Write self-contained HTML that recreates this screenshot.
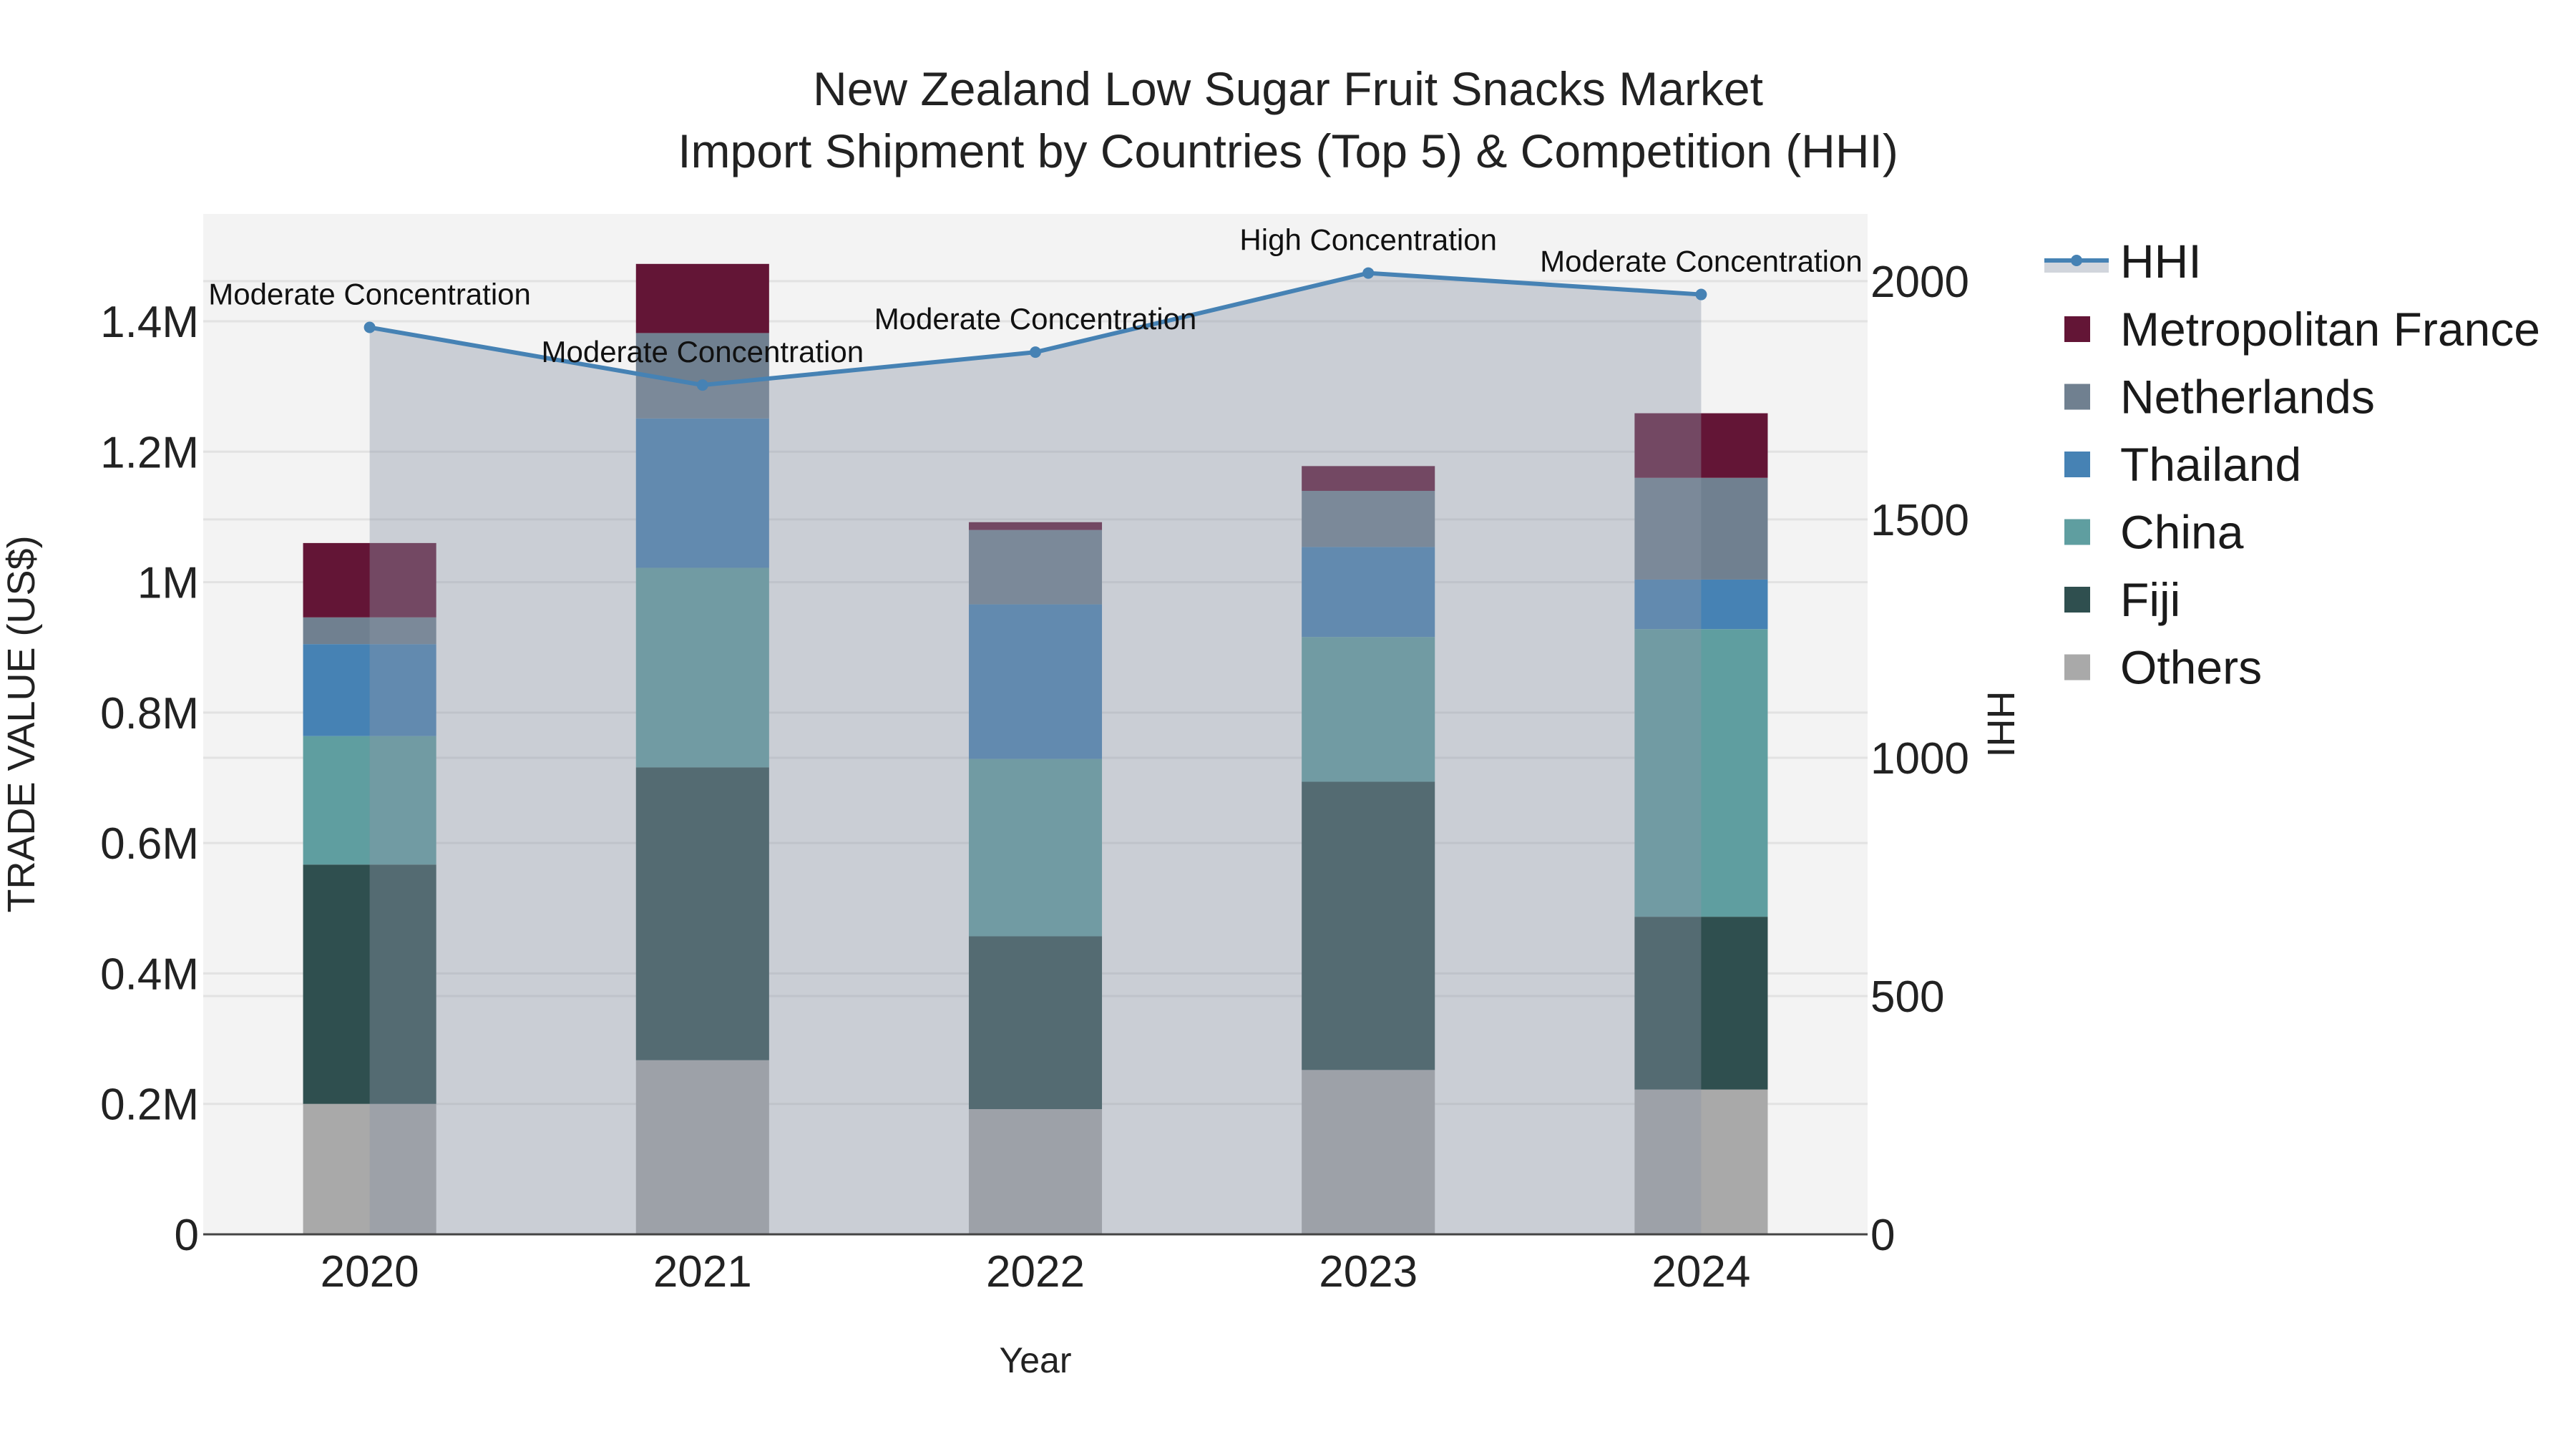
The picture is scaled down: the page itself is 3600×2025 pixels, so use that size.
<!DOCTYPE html>
<html><head><meta charset="utf-8">
<style>
html,body{margin:0;padding:0;background:#fff;}
svg{display:block;font-family:"Liberation Sans",Arial,sans-serif;}
</style></head>
<body>
<svg id="chart" width="3600" height="2025" viewBox="0 0 3600 2025" xmlns="http://www.w3.org/2000/svg">
<rect x="0" y="0" width="3600" height="2025" fill="#ffffff"/>
<rect x="284" y="299" width="2326" height="1426" fill="#f3f3f3"/>
<g id="grid"></g>
<g id="bars"></g>
<g id="hhi"></g>
<g id="axes"></g>
<text x="1800" y="147" text-anchor="middle" font-size="66" fill="#222">New Zealand Low Sugar Fruit Snacks Market</text>
<text x="1800" y="234" text-anchor="middle" font-size="66" fill="#222">Import Shipment by Countries (Top 5) &amp; Competition (HHI)</text>
<text x="1447" y="1918" text-anchor="middle" font-size="50" fill="#222">Year</text>
<text transform="translate(48,1012) rotate(-90)" text-anchor="middle" font-size="54" fill="#222">TRADE VALUE (US$)</text>
<text transform="translate(2778,1012) rotate(90)" text-anchor="middle" font-size="54" fill="#222">HHI</text>
<g id="legend"></g>
</svg>
<script>
const years = ['2020','2021','2022','2023','2024'];
const seriesNames = ['Others','Fiji','China','Thailand','Netherlands','Metropolitan France'];
const others = [0.200,0.267,0.192,0.252,0.222];
const fiji = [0.367,0.449,0.265,0.442,0.265];
const china = [0.197,0.306,0.272,0.222,0.441];
const thailand = [0.141,0.229,0.237,0.138,0.076];
const netherlands = [0.041,0.131,0.114,0.086,0.156];
const france = [0.114,0.106,0.012,0.038,0.099];
const hhi = [1903,1782,1851,2017,1972];
const hhiLabels = ['Moderate Concentration','Moderate Concentration','Moderate Concentration','High Concentration','Moderate Concentration'];
const yTicks = [0,0.2,0.4,0.6,0.8,1,1.2,1.4];
const yTickLabels = ['0','0.2M','0.4M','0.6M','0.8M','1M','1.2M','1.4M'];
const y2Ticks = [0,500,1000,1500,2000];

const colors = ['#a9a9a9','#2f4f4f','#5f9ea0','#4682b4','#708090','#631536'];
const NS='http://www.w3.org/2000/svg';
const L=284,R=2610,T=299,B=1725;
const yMax=1.5646, y2Max=2141;
const xs=i=>L+(R-L)/years.length*(i+0.5);
const ys=v=>B-(B-T)*v/yMax;
const ys2=v=>B-(B-T)*v/y2Max;
function mk(tag,attrs,parent){const e=document.createElementNS(NS,tag);for(const k in attrs)e.setAttribute(k,attrs[k]);parent.appendChild(e);return e;}
const grid=document.getElementById('grid'),bars=document.getElementById('bars'),hg=document.getElementById('hhi'),axes=document.getElementById('axes'),lg=document.getElementById('legend');

y2Ticks.forEach(t=>{if(t===0)return;const l=mk('line',{x1:L,x2:R,y1:ys2(t),y2:ys2(t),stroke:'#e2e2e2','stroke-width':3},grid);


const tx=mk('text',{x:2614,y:ys2(t)+22,'font-size':62,fill:'#222'},axes);tx.textContent=t;

});
const z2=mk('text',{x:2614,y:B+22,'font-size':62,fill:'#222'},axes);z2.textContent='0';


yTicks.forEach((t,i)=>{if(t>0){const l=mk('line',{x1:L,x2:R,y1:ys(t),y2:ys(t),stroke:'#e2e2e2','stroke-width':3},grid);

}
const tx=mk('text',{x:278,y:ys(t)+22,'text-anchor':'end','font-size':62,fill:'#222'},axes);tx.textContent=yTickLabels[i];

});

const stacks=[others,fiji,china,thailand,netherlands,france];
const bw=(R-L)/years.length*0.4;
years.forEach((yr,i)=>{let base=0;stacks.forEach((s,k)=>{const y0=ys(base),y1=ys(base+s[i]);
const r=mk('rect',{x:xs(i)-bw/2,y:y1,width:bw,height:y0-y1,fill:colors[k]},bars);


base+=s[i];});
const tx=mk('text',{x:xs(i),y:1798,'text-anchor':'middle','font-size':62,fill:'#222'},axes);tx.textContent=yr;

});

let pts=hhi.map((v,i)=>xs(i)+','+ys2(v)).join(' ');
const area=mk('polygon',{points:xs(0)+','+B+' '+pts+' '+xs(hhi.length-1)+','+B,fill:'rgba(140,150,168,0.4)'},hg);


const line=mk('polyline',{points:pts,fill:'none',stroke:'#4682b4','stroke-width':6},hg);


hhi.forEach((v,i)=>{const c=mk('circle',{cx:xs(i),cy:ys2(v),r:8,fill:'#4682b4'},hg);


const tx=mk('text',{x:xs(i),y:ys2(v)-32,'text-anchor':'middle','font-size':42,fill:'#111'},hg);tx.textContent=hhiLabels[i];

});

const axl=mk('line',{x1:L,x2:R,y1:B,y2:B,stroke:'#444','stroke-width':3},axes);



// legend
const lr=mk('rect',{x:2857,y:364,width:90,height:17,fill:'rgba(140,150,168,0.4)'},lg);


const ll=mk('line',{x1:2857,x2:2947,y1:364,y2:364,stroke:'#4682b4','stroke-width':6},lg);


const lc=mk('circle',{cx:2902,cy:364,r:8,fill:'#4682b4'},lg);


const lt=mk('text',{x:2963,y:388,'font-size':66,fill:'#1a1a1a'},lg);lt.textContent='HHI';


const order=[5,4,3,2,1,0];
order.forEach((k,j)=>{const cy=460+j*94.5;
const r=mk('rect',{x:2885,y:cy-18,width:36,height:36,fill:colors[k]},lg);


const t=mk('text',{x:2963,y:cy+23,'font-size':66,fill:'#1a1a1a'},lg);t.textContent=seriesNames[k];

});
</script>
</body></html>
